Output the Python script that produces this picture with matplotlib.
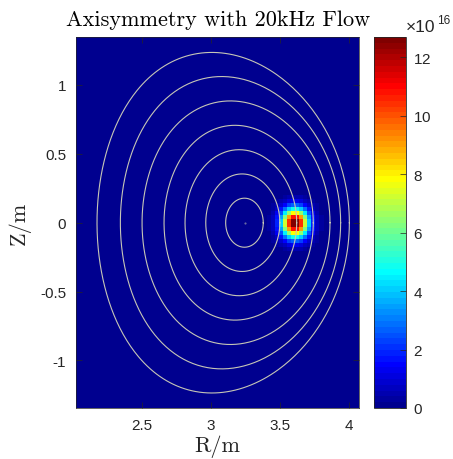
import numpy as np
import matplotlib
matplotlib.use("Agg")
import matplotlib.pyplot as plt
from matplotlib.colors import ListedColormap, Normalize

# ---- data -------------------------------------------------------------
# density perturbation (units of 1e16) on a square grid, cells of 0.029 m,
# centred on the corner at R = 3.611 m, Z = 0
blob_vals = np.array([
    [0.0, 0.0, 0.1, 0.1, 0.3, 0.4, 0.5, 0.5, 0.4, 0.3, 0.1, 0.1, 0.0, 0.0],
    [0.0, 0.1, 0.2, 0.4, 0.7, 1.0, 1.2, 1.2, 1.0, 0.7, 0.4, 0.2, 0.1, 0.0],
    [0.0, 0.2, 0.4, 0.8, 1.5, 2.2, 2.6, 2.6, 2.2, 1.5, 0.8, 0.4, 0.2, 0.0],
    [0.1, 0.3, 0.7, 1.6, 2.8, 4.1, 4.9, 4.9, 4.1, 2.8, 1.6, 0.7, 0.3, 0.1],
    [0.1, 0.5, 1.2, 2.5, 4.5, 6.5, 7.9, 7.9, 6.5, 4.5, 2.5, 1.2, 0.5, 0.1],
    [0.2, 0.6, 1.6, 3.5, 6.2, 9.0, 10.8, 10.8, 9.0, 6.2, 3.5, 1.6, 0.6, 0.2],
    [0.2, 0.7, 1.9, 4.1, 7.2, 10.5, 12.7, 12.7, 10.5, 7.2, 4.1, 1.9, 0.7, 0.2],
    [0.2, 0.7, 1.9, 4.1, 7.2, 10.5, 12.7, 12.7, 10.5, 7.2, 4.1, 1.9, 0.7, 0.2],
    [0.2, 0.6, 1.6, 3.5, 6.2, 9.0, 10.8, 10.8, 9.0, 6.2, 3.5, 1.6, 0.6, 0.2],
    [0.1, 0.5, 1.2, 2.5, 4.5, 6.5, 7.9, 7.9, 6.5, 4.5, 2.5, 1.2, 0.5, 0.1],
    [0.1, 0.3, 0.7, 1.6, 2.8, 4.1, 4.9, 4.9, 4.1, 2.8, 1.6, 0.7, 0.3, 0.1],
    [0.0, 0.2, 0.4, 0.8, 1.5, 2.2, 2.6, 2.6, 2.2, 1.5, 0.8, 0.4, 0.2, 0.0],
    [0.0, 0.1, 0.2, 0.4, 0.7, 1.0, 1.2, 1.2, 1.0, 0.7, 0.4, 0.2, 0.1, 0.0],
    [0.0, 0.0, 0.1, 0.1, 0.3, 0.4, 0.5, 0.5, 0.4, 0.3, 0.1, 0.1, 0.0, 0.0],
])
blob_r = 3.611
blob_z = 0.0
cell = 0.029
cmax = 12.7

# flux surfaces: centre R, half width, half height, triangularity
surf_r0 = [3.242, 3.230, 3.216, 3.200, 3.181, 3.141, 3.088]
surf_a = [0.136, 0.268, 0.404, 0.540, 0.680, 0.797, 0.913]
surf_h = [0.178, 0.354, 0.530, 0.707, 0.884, 1.061, 1.236]
surf_tri = [0.0, 0.02, 0.03, 0.05, 0.06, 0.08, 0.09]
axis_rz = (3.248, 0.0)

cbar_ticks = [0, 2, 4, 6, 8, 10, 12]
x_ticks = [2.5, 3, 3.5, 4]
x_ticklabels = ["2.5", "3", "3.5", "4"]
y_ticks = [-1, -0.5, 0, 0.5, 1]
y_ticklabels = ["-1", "-0.5", "0", "0.5", "1"]


def matlab_jet(m=64):
    n = int(np.ceil(m / 4))
    u = np.concatenate([np.arange(1, n + 1) / n, np.ones(n - 1), np.arange(n, 0, -1) / n])
    g = int(np.ceil(n / 2)) - (1 if m % 4 == 1 else 0) + np.arange(1, len(u) + 1)
    r = g + n
    b = g - n
    J = np.zeros((m, 3))
    J[r[r <= m] - 1, 0] = u[r <= m]
    J[g[g <= m] - 1, 1] = u[g <= m]
    J[b[b >= 1] - 1, 2] = u[b >= 1]
    return ListedColormap(J)


cmap = matlab_jet(64)
txt_col = (0.15, 0.15, 0.15)
sans = ["Liberation Sans", "DejaVu Sans"]
serif = ["cmr10", "DejaVu Serif"]
plt.rcParams["axes.formatter.use_mathtext"] = True

W, H = 453, 460
fig = plt.figure(figsize=(W / 100, H / 100), dpi=100)

ax = fig.add_axes([76 / W, 1 - 409 / H, (359.3 - 76) / W, (409 - 38) / H])

# full grid aligned on the perturbation's cell corners
ny, nx = blob_vals.shape
r_edges = blob_r + cell * np.arange(-55, 17)
z_edges = blob_z + cell * np.arange(-47, 48)
field = np.zeros((len(z_edges) - 1, len(r_edges) - 1))
i0 = 47 - ny // 2
j0 = 55 - nx // 2
field[i0:i0 + ny, j0:j0 + nx] = blob_vals[::-1]

mesh = ax.pcolormesh(r_edges, z_edges, field, cmap=cmap,
                     norm=Normalize(0, cmax), shading="flat",
                     antialiased=False, rasterized=True)

theta = np.linspace(0, 2 * np.pi, 400)
line_col = "#c6c6b6"
for r0, a, h, d in zip(surf_r0, surf_a, surf_h, surf_tri):
    R = r0 + a * np.cos(theta + np.arcsin(d) * np.sin(theta))
    Z = h * np.sin(theta)
    ax.plot(R, Z, color=line_col, lw=0.8)
ax.plot([axis_rz[0]], [axis_rz[1]], marker=".", ms=1.0, color=line_col, alpha=0.6)

ax.set_xlim(2.023, 4.073)
ax.set_ylim(-1.345, 1.348)
ax.set_xticks(x_ticks)
ax.set_xticklabels(x_ticklabels)
ax.set_yticks(y_ticks)
ax.set_yticklabels(y_ticklabels)
ax.tick_params(direction="in", length=4, width=0.5, color=txt_col,
               top=True, right=True, labelsize=11, labelcolor=txt_col, pad=7)
for lab in ax.get_xticklabels() + ax.get_yticklabels():
    lab.set_family(sans)
for s in ax.spines.values():
    s.set_color(txt_col)
    s.set_linewidth(0.5)

fig.text(217.6 / W, 1 - 26 / H, "Axisymmetry with 20kHz Flow",
         family=serif, fontsize=16, ha="center", va="baseline", color="black")
fig.text(217.6 / W, 1 - 452 / H, "R/m", family=serif, fontsize=16,
         ha="center", va="baseline", color=txt_col)
fig.text(20 / W, 1 - 223 / H, "Z/m", family=serif, fontsize=16,
         ha="center", va="center", rotation=90, color=txt_col)

# colour bar
cax = fig.add_axes([374 / W, 1 - 409 / H, 32 / W, (409 - 38) / H])
cb = fig.colorbar(mesh, cax=cax, ticks=cbar_ticks)
cb.outline.set_color(txt_col)
cb.outline.set_linewidth(0.6)
cax.tick_params(direction="in", length=4, width=0.5, color=txt_col,
                labelsize=11, labelcolor=txt_col, pad=5)
for lab in cax.get_yticklabels():
    lab.set_family(sans)
fig.text(406 / W, 1 - 32 / H, "\u00d710", family=sans, fontsize=12.5,
         color=txt_col, ha="left", va="baseline")
fig.text(437 / W, 1 - 24 / H, "16", family=sans, fontsize=8.5,
         color=txt_col, ha="left", va="baseline")

fig.savefig("out.png", dpi=100)
